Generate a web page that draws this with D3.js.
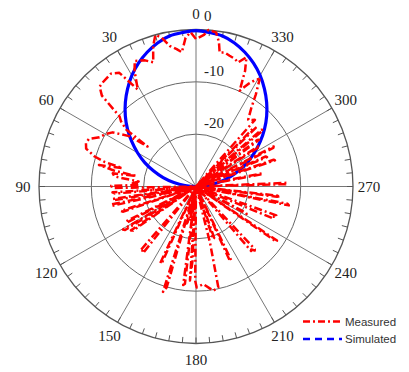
<!DOCTYPE html>
<html><head><meta charset="utf-8">
<script src="https://cdn.jsdelivr.net/npm/d3@7"></script>
<style>html,body{margin:0;padding:0;background:#fff;}svg{display:block;}</style>
</head><body>
<script>
// ---- data ----
const angleTicks = [0, 30, 60, 90, 120, 150, 180, 210, 240, 270, 300, 330];
const angleLabels = ["0", "30", "60", "90", "120", "150", "180", "210", "240", "270", "300", "330"];
const ringTicks = [-20, -10, 0];
const ringLabels = ["-20", "-10", "0"];
const seriesNames = ["Measured", "Simulated"];

// Measured: angle (deg, counter-clockwise from top) and gain (dB)
const measAngles = [0,2,4,6,8,10.5,13,15,17,19,22,26,28,31,34,37,42,44,46,47.5,49,50.8,50.5,53,57,60,63,66,68.5,71,73.5,75,76,77.5,79,80,81,83,85,87,88.5,
 89.5,91,92,94,95,96.5,98.5,99.5,101,102,103,104.5,108,109,110.5,116.5,117.5,119,120.5,121.5,123,124,125,126.5,139,139.8,140.8,141.5,143,155,156,157.5,162.6,163.8,165,165.8,166.8,168.5,170,170.8,171.8,172.6,173.5,175,176.3,177.3,178.5,179.5,180.4,184.3,189.5,192.5,194,195,198,199.5,201,204.5,205.5,207,220.5,221.3,222.5,223.2,225,235.5,236.3,238,241.5,242.3,243.5,247.5,248.3,249.3,250.2,251.5,258.5,259.3,260.5,262.8,263.6,265,271.5,272.3,274,280.5,281.3,283,288.3,289,290,292.5,293.3,294.5,296.5,297.3,298.5,302,302.8,304,306.5,307.3,308.5,310,311,312.5,314.5,315.5,317,318.5,320,322,324.9,327,329.3,330.6,333,335.5,337,338.7,341.3,343,345.6,348,350,351,352.6,355.5,357,360];
const measValues = [-1.8,-0.5,-1.5,-4.2,-3.5,-2.7,-0.8,0,-2,-4.9,-4,-3.3,-5,-8.4,-3.8,-3,-3.3,-3.5,-5,-10.2,-11,-12.8,-18,-14,-11,-10,-9.3,-7.6,-7.4,-7.8,-9.8,-12,-15.5,-11,-14,-18.4,-13.9,-14.3,-19,-17.9,-19.2,
 -13.8,-14,-30,-14,-14.5,-30,-13.9,-14.2,-30,-13.4,-13.6,-30,-14.9,-15.2,-30,-15,-15.2,-30,-13.8,-14.1,-30,-15,-15.3,-30,-13.9,-14.2,-13.7,-13.9,-30,-13.8,-14,-30,-8.9,-9.9,-30,-22.7,-23,-30,-23.3,-23.6,-30,-11,-11.3,-30,-12,-15.8,-30,-12,-10.7,-11.3,-9.8,-10.3,-19,-30,-19.4,-19.6,-30,-14.5,-14.3,-30,-13.8,-14,-13.4,-13.6,-30,-11.3,-11.4,-30,-19,-19.2,-30,-14.3,-14.5,-13.5,-13.7,-30,-11.9,-12.2,-30,-14.4,-13.8,-30,-12.5,-12.7,-30,-17,-17.2,-30,-14.1,-14.3,-30,-15.3,-15.5,-30,-13.5,-13.3,-30,-15.6,-15.8,-30,-15,-15.3,-30,-13.2,-13.5,-30,-14,-14.2,-30,-13,-13.4,-13.8,-11.6,-9,-6.2,-6.5,-8,-9.9,-6,-3.5,-5,-4.5,-4.2,-3.8,-4,-2,-0.3,0,-1,-1.8];

// Simulated
const simAngles = [0,5,10,15,20,25,30,35,40,45,50,55,60,65,70,75,80,85,180,275,280,285,290,295,300,305,310,315,320,325,330,335,340,345,350,355];
const simValues = [-0.2,-0.45,-0.8,-1.6,-2.7,-4.0,-5.5,-7.2,-9.0,-10.9,-12.9,-15.0,-17.1,-19.2,-21.4,-23.5,-25.7,-27.9,-30,-27.9,-25.7,-23.5,-21.4,-19.2,-17.1,-15.0,-12.9,-10.9,-9.0,-7.2,-5.5,-4.0,-2.7,-1.6,-0.8,-0.45];

// ---- drawing ----
const W = 409, H = 372;
const cx = 196, cy = 186.5, R = 157;
const serif = "'Liberation Serif', 'Times New Roman', serif";
const svg = d3.select("body").append("svg").attr("width", W).attr("height", H);
const g = svg.append("g").attr("transform", `translate(${cx},${cy})`);

const r = d3.scaleLinear().domain([-30, 0]).range([0, R]).clamp(true);
const toRad = a => -a * Math.PI / 180;
const px = (a, rr) => rr * Math.sin(toRad(a));
const py = (a, rr) => -rr * Math.cos(toRad(a));

// rings
g.selectAll("circle.ring").data(ringTicks).enter().append("circle")
  .attr("r", d => r(d)).attr("fill", "none")
  .attr("stroke", d => d === 0 ? "#555" : "#666")
  .attr("stroke-width", d => d === 0 ? 1.3 : 1);

// spokes
g.selectAll("line.spoke").data(angleTicks).enter().append("line")
  .attr("x1", 0).attr("y1", 0)
  .attr("x2", d => px(d, R)).attr("y2", d => py(d, R))
  .attr("stroke", "#777").attr("stroke-width", 1);

// minor ticks every 5 deg
const minor = d3.range(0, 360, 5);
g.selectAll("line.tick").data(minor).enter().append("line")
  .attr("x1", d => px(d, R)).attr("y1", d => py(d, R))
  .attr("x2", d => px(d, R - 6)).attr("y2", d => py(d, R - 6))
  .attr("stroke", "#555").attr("stroke-width", 1);

// angle labels
g.selectAll("text.ang").data(angleTicks).enter().append("text")
  .attr("x", d => px(d, R + 16)).attr("y", d => py(d, R + 16))
  .attr("text-anchor", "middle").attr("dominant-baseline", "central")
  .style("font-family", serif)
  .attr("font-size", 15).attr("fill", "#222")
  .text((d, i) => angleLabels[i]);

// ring labels
g.selectAll("text.rl").data(ringTicks).enter().append("text")
  .attr("x", 8).attr("y", d => -r(d) - (d === 0 ? 14 : 11))
  .attr("dominant-baseline", "central")
  .style("font-family", serif)
  .attr("font-size", 15).attr("fill", "#222")
  .text((d, i) => ringLabels[i]);

// simulated
const simData = simAngles.map((a, i) => ({a, v: simValues[i]}));
const simLine = d3.lineRadial().angle(d => toRad(d.a)).radius(d => r(d.v)).curve(d3.curveCatmullRomClosed);
g.append("path").attr("d", simLine(simData)).attr("fill", "none")
  .attr("stroke", "#0000ff").attr("stroke-width", 3.2);

// measured
const measData = measAngles.map((a, i) => ({a, v: measValues[i]}));
const measLine = d3.lineRadial().angle(d => toRad(d.a)).radius(d => r(d.v)).curve(d3.curveLinear);
g.append("path").attr("d", measLine(measData)).attr("fill", "none")
  .attr("stroke", "#ff0000").attr("stroke-width", 2.5)
  .attr("stroke-dasharray", "8,3,2,3").attr("stroke-linejoin", "round");

// legend
const leg = svg.append("g");
const legStyles = [{c: "#ff0000", dash: "7,3,2,3"}, {c: "#0000ff", dash: "7,5"}];
seriesNames.forEach((name, i) => {
  const y = 321.5 + i * 17.5;
  leg.append("line").attr("x1", 303).attr("x2", 342).attr("y1", y).attr("y2", y)
    .attr("stroke", legStyles[i].c).attr("stroke-width", 2.5)
    .attr("stroke-dasharray", legStyles[i].dash);
  leg.append("text").attr("x", 345).attr("y", y).attr("dominant-baseline", "central")
    .style("font-family", "'Liberation Sans', Arial, sans-serif").attr("font-size", 11.5)
    .attr("fill", "#333").text(name);
});
</script>
</body></html>
